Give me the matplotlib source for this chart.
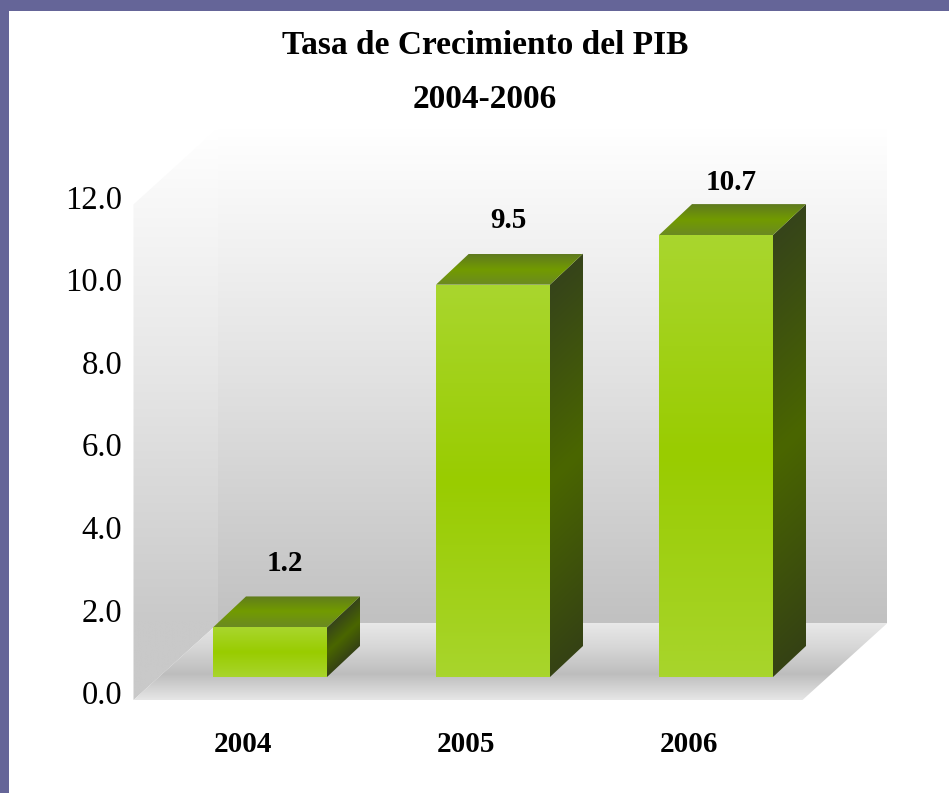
import numpy as np
import matplotlib
matplotlib.use('Agg')
import matplotlib.pyplot as plt
from matplotlib.colors import LinearSegmentedColormap
from matplotlib.patches import Polygon, Rectangle

# Data
years = ['2004', '2005', '2006']
growth = [1.2, 9.5, 10.7]
y_ticks = [0, 2, 4, 6, 8, 10, 12]
y_max = 12
title_lines = ['Tasa de Crecimiento del PIB', '2004-2006']

plt.rcParams['font.family'] = ['Liberation Serif', 'DejaVu Serif']

W, H = 949, 793
fig = plt.figure(figsize=(W / 100, H / 100), dpi=100)
fig.patch.set_facecolor('white')
ax = fig.add_axes([0, 0, 1, 1])
ax.set_axis_off()

# layout in pixels: first bar centre, bar step, zero line, px per unit
X0, STEP, Y0, SCALE = 270, 223, 677, 41.3

def px(d):
    return d / STEP

def py(d):
    return d / SCALE

# depth offsets (front plane, back plane, bar depth) in data units
fx, fy = px(-25), py(-23)
bx, by = px(60), py(54)
dx, dy = px(33), py(31)
half = px(57)
left, right = -0.5, len(years) - 0.5


def grad_fill(verts, tfunc, colors, z, edge=None):
    verts = np.array(verts)
    x0, y0 = verts.min(0)
    x1, y1 = verts.max(0)
    X, Y = np.meshgrid(np.linspace(x0, x1, 300), np.linspace(y0, y1, 300))
    T = np.clip(tfunc(X, Y), 0, 1)
    cmap = LinearSegmentedColormap.from_list('g', colors)
    im = ax.imshow(T, extent=(x0, x1, y0, y1), origin='lower', cmap=cmap,
                   vmin=0, vmax=1, aspect='auto', interpolation='bilinear', zorder=z)
    poly = Polygon(verts, closed=True, facecolor='none',
                   edgecolor=edge if edge else 'none', lw=0.6, zorder=z + 0.1)
    ax.add_patch(poly)
    im.set_clip_path(poly)


# back wall
grad_fill([(left + bx, by), (right + bx, by), (right + bx, y_max + by), (left + bx, y_max + by)],
          lambda X, Y: (Y - by) / y_max, ['#c1c1c1', '#e2e2e2', '#ffffff'], 1)

# side wall (same vertical shading, a touch lighter)
grad_fill([(left + fx, fy), (left + bx, by), (left + bx, y_max + by), (left + fx, y_max + fy)],
          lambda X, Y: (Y - by) / y_max, ['#c9c9c9', '#e6e6e6', '#ffffff'], 1)

# floor
grad_fill([(left + fx, fy), (right + fx, fy), (right + bx, by), (left + bx, by)],
          lambda X, Y: (Y - fy) / (by - fy),
          ['#e6e6e6', '#bdbdbd', '#d6d6d6', '#e9e9e9'], 2)

# bars
for i, v in enumerate(growth):
    xl, xr = i - half, i + half
    grad_fill([(xl, 0), (xr, 0), (xr, v), (xl, v)],
              lambda X, Y, v=v: Y / v,
              ['#a8d52c', '#99cc00', '#a9d62e'], 5)
    s = dy / dx
    grad_fill([(xr, 0), (xr + dx, dy), (xr + dx, v + dy), (xr, v)],
              lambda X, Y, v=v, xr=xr, s=s: (Y - s * (X - xr)) / v,
              ['#354214', '#4a6600', '#36441a'], 5)
    grad_fill([(xl, v), (xr, v), (xr + dx, v + dy), (xl + dx, v + dy)],
              lambda X, Y, v=v: (Y - v) / dy,
              ['#6b8a22', '#729b00', '#5f7a1f'], 5)
    # value label, kept inside chart area
    ty = min(v + dy + py(33), py(Y0 - 183))
    ax.text(i + px(15), ty, f'{v:.1f}', ha='center', va='center',
            fontsize=21, fontweight='bold', color='black', zorder=10)
    ax.text(i - px(27), py(-67), years[i], ha='center', va='center',
            fontsize=21, fontweight='bold', color='black', zorder=10)

# value axis labels
for t in y_ticks:
    ax.text(left + fx - px(11), t - py(19), f'{t:.1f}', ha='right', va='center',
            fontsize=23.5, color='black', zorder=10)

ax.set_xlim(-X0 / STEP, (W - X0) / STEP)
ax.set_ylim((Y0 - H) / SCALE, Y0 / SCALE)

fig.text(485 / W, 1 - 46 / H, title_lines[0], ha='center', va='center',
         fontsize=24, fontweight='bold')
fig.text(485 / W, 1 - 99 / H, title_lines[1], ha='center', va='center',
         fontsize=24, fontweight='bold')

# frame bands
border = '#656598'
fig.patches.append(Rectangle((0, 1 - 11 / H), 1, 11 / H, transform=fig.transFigure,
                             facecolor=border, edgecolor='none', zorder=20))
fig.patches.append(Rectangle((0, 0), 9 / W, 1, transform=fig.transFigure,
                             facecolor=border, edgecolor='none', zorder=20))

fig.savefig('out.png', dpi=100)
